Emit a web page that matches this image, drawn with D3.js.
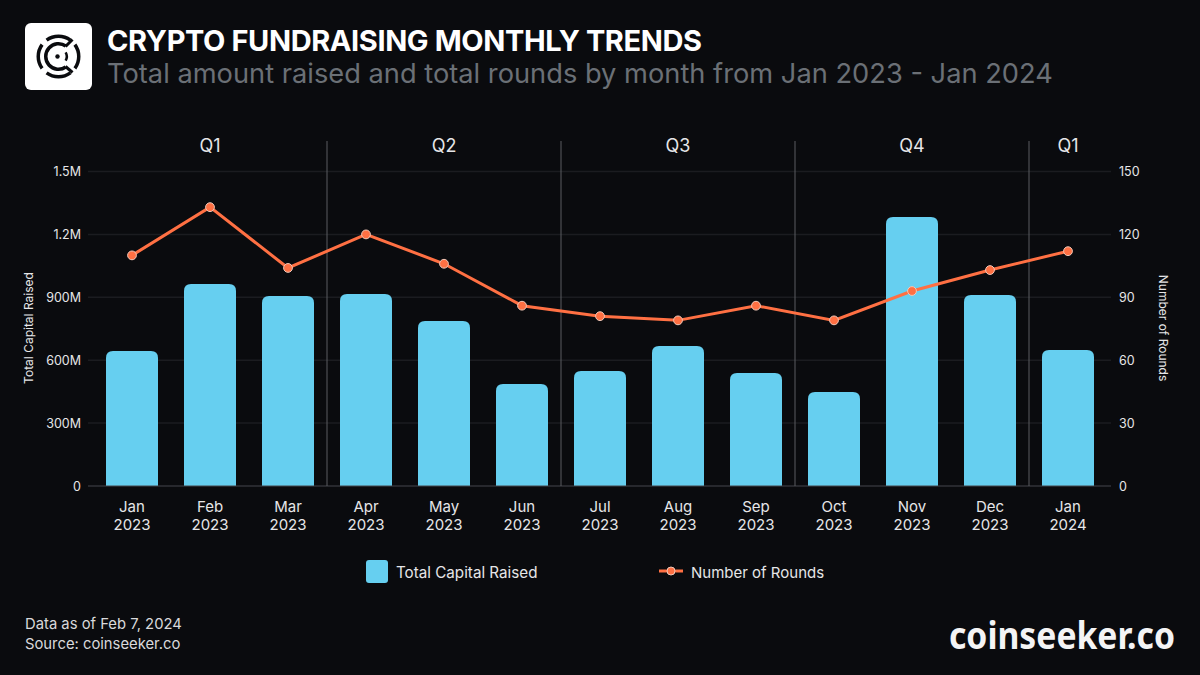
<!DOCTYPE html>
<html>
<head>
<meta charset="utf-8">
<script src="https://cdn.jsdelivr.net/npm/d3@7/dist/d3.min.js"></script>
<style>
  html, body { margin: 0; padding: 0; background: #0a0b0e; }
  svg { display: block; }
  text { font-family: Inter, "Noto Sans", sans-serif; }
</style>
</head>
<body>
<svg id="chart" width="1200" height="675"></svg>
<script>
const months = ["Jan", "Feb", "Mar", "Apr", "May", "Jun", "Jul", "Aug", "Sep", "Oct", "Nov", "Dec", "Jan"];
const years = ["2023", "2023", "2023", "2023", "2023", "2023", "2023", "2023", "2023", "2023", "2023", "2023", "2024"];
const capitalRaised = [644, 963, 906, 916, 787, 486, 548, 668, 539, 448, 1283, 911, 649];
const roundCounts = [110, 133, 104, 120, 106, 86, 81, 79, 86, 79, 93, 103, 112];
const capitalTicks = [0, 300, 600, 900, 1200, 1500];
const capitalTickLabels = ["0", "300M", "600M", "900M", "1.2M", "1.5M"];
const roundTicks = [0, 30, 60, 90, 120, 150];
const quarterNames = ["Q1", "Q2", "Q3", "Q4", "Q1"];
const quarterSpans = [[0, 2], [3, 5], [6, 8], [9, 11], [12, 12]];

const BAR_COLOR = "#66cff0";
const LINE_COLOR = "#ff7043";
const INK = "#0a0b0e";
const svg = d3.select("#chart");

svg.append("rect").attr("width", 1200).attr("height", 675).attr("fill", INK);

const keys = months.map((_, i) => i);
const x = d3.scaleBand().domain(keys).range([93, 1107]).paddingInner(1 / 3).paddingOuter(1 / 6);
const step = x.step();
const yLeft = d3.scaleLinear().domain([0, 1500]).range([486, 171.5]);
const yRight = d3.scaleLinear().domain([0, 150]).range([486, 171.5]);

// Horizontal gridlines
svg.append("g").selectAll("line").data(capitalTicks.slice(1)).join("line")
  .attr("x1", 88).attr("x2", 1111)
  .attr("y1", d => yLeft(d)).attr("y2", d => yLeft(d))
  .attr("stroke", "#1b1c20").attr("stroke-width", 1.5);

// Bars, rounded at the top corners only
const barRadius = 7;
svg.append("g").selectAll("path").data(capitalRaised).join("path")
  .attr("fill", BAR_COLOR)
  .attr("d", (d, i) => {
    const l = x(i), r = l + x.bandwidth(), t = yLeft(d), b = yLeft(0);
    return `M${l},${b}V${t + barRadius}Q${l},${t} ${l + barRadius},${t}H${r - barRadius}Q${r},${t} ${r},${t + barRadius}V${b}Z`;
  });

// Baseline
svg.append("line").attr("x1", 88).attr("x2", 1111)
  .attr("y1", yLeft(0)).attr("y2", yLeft(0))
  .attr("stroke", "#45474c").attr("stroke-width", 1);

// Quarter separators and headings
const center = i => x(i) + x.bandwidth() / 2;
svg.append("g").selectAll("line").data(quarterSpans.slice(1)).join("line")
  .attr("x1", d => x(d[0]) - (step - x.bandwidth()) / 2)
  .attr("x2", d => x(d[0]) - (step - x.bandwidth()) / 2)
  .attr("y1", 141).attr("y2", 486)
  .attr("stroke", "#5a5c60").attr("stroke-width", 1);
svg.append("g").selectAll("text").data(quarterNames).join("text")
  .attr("x", (d, i) => (center(quarterSpans[i][0]) + center(quarterSpans[i][1])) / 2)
  .attr("y", 152).attr("text-anchor", "middle")
  .attr("fill", "#e6e6e8").attr("font-size", 18).text(d => d);

// Left and right value axes
const leftAxis = d3.axisLeft(yLeft).tickValues(capitalTicks)
  .tickFormat((d, i) => capitalTickLabels[i]).tickSize(0).tickPadding(0);
const rightAxis = d3.axisRight(yRight).tickValues(roundTicks).tickSize(0).tickPadding(0);
[svg.append("g").attr("transform", "translate(81,0)").call(leftAxis),
 svg.append("g").attr("transform", "translate(1119,0)").call(rightAxis)].forEach(g => {
  g.select(".domain").remove();
  g.selectAll("text").attr("fill", "#e6e6e8").attr("font-size", 12.5)
    .style("font-family", "Inter, sans-serif");
});

svg.append("text").attr("transform", "translate(33,328) rotate(-90)")
  .attr("text-anchor", "middle").attr("fill", "#e6e6e8").attr("font-size", 12)
  .text("Total Capital Raised");
svg.append("text").attr("transform", "translate(1159,328) rotate(90)")
  .attr("text-anchor", "middle").attr("fill", "#e6e6e8").attr("font-size", 12)
  .text("Number of Rounds");

// Month and year labels
const monthLabels = svg.append("g").selectAll("text").data(keys).join("text")
  .attr("text-anchor", "middle").attr("fill", "#e6e6e8").attr("font-size", 15);
monthLabels.append("tspan").attr("x", center).attr("y", 512).text(i => months[i]);
monthLabels.append("tspan").attr("x", center).attr("y", 530).text(i => years[i]);

// Rounds line with markers
const line = d3.line().x((d, i) => center(i)).y(d => yRight(d));
svg.append("path").datum(roundCounts).attr("d", line)
  .attr("fill", "none").attr("stroke", LINE_COLOR).attr("stroke-width", 3);
svg.append("g").selectAll("circle").data(roundCounts).join("circle")
  .attr("cx", (d, i) => center(i)).attr("cy", d => yRight(d)).attr("r", 4.4)
  .attr("fill", LINE_COLOR).attr("stroke", "#f0c8b8").attr("stroke-width", 1);

// Legend
svg.append("rect").attr("x", 366).attr("y", 560).attr("width", 22).attr("height", 23).attr("rx", 3)
  .attr("fill", BAR_COLOR);
svg.append("text").attr("x", 396).attr("y", 577.5).attr("fill", "#e6e6e8").attr("font-size", 15.2)
  .text("Total Capital Raised");
svg.append("line").attr("x1", 659).attr("x2", 683).attr("y1", 571).attr("y2", 571)
  .attr("stroke", LINE_COLOR).attr("stroke-width", 3);
svg.append("circle").attr("cx", 671).attr("cy", 571).attr("r", 4)
  .attr("fill", LINE_COLOR).attr("stroke", "#f0c8b8").attr("stroke-width", 1);
svg.append("text").attr("x", 691).attr("y", 577.5).attr("fill", "#e6e6e8").attr("font-size", 15)
  .text("Number of Rounds");

// Title block with the brand mark: four outer arcs, an inner C and a small signal
svg.append("rect").attr("x", 25).attr("y", 23).attr("width", 67).attr("height", 67).attr("rx", 6)
  .attr("fill", "#ffffff");
const logo = svg.append("g").attr("transform", "translate(58.5,56.5)");
const ringArc = d3.arc();
const deg = d => d * Math.PI / 180;
[[-36, 36], [54, 126], [144, 216], [234, 306]].forEach(([a, b]) => {
  logo.append("path").attr("d", ringArc({ innerRadius: 18.5, outerRadius: 22, startAngle: deg(a), endAngle: deg(b) }))
    .attr("fill", INK);
});
logo.append("path").attr("d", ringArc({ innerRadius: 11, outerRadius: 14.5, startAngle: deg(145), endAngle: deg(395) }))
  .attr("fill", INK);
logo.append("path").attr("d", ringArc({ innerRadius: 7, outerRadius: 9.5, startAngle: deg(60), endAngle: deg(120) }))
  .attr("fill", INK);
logo.append("circle").attr("cx", -1).attr("cy", 0).attr("r", 2.2).attr("fill", INK);
[[7, 10, 14, 16], [7, -10, 14, -17]].forEach(([x1, y1, x2, y2]) => {
  logo.append("line").attr("x1", x1).attr("y1", y1).attr("x2", x2).attr("y2", y2)
    .attr("stroke", INK).attr("stroke-width", 3);
});

svg.append("text").attr("x", 107).attr("y", 50.5).attr("fill", "#ffffff")
  .attr("font-size", 29).attr("font-weight", 700).attr("letter-spacing", -0.4)
  .text("CRYPTO FUNDRAISING MONTHLY TRENDS");
svg.append("text").attr("x", 107).attr("y", 83).attr("fill", "#6b7076")
  .attr("font-size", 27.25)
  .text("Total amount raised and total rounds by month from Jan 2023 - Jan 2024");

// Footer
svg.append("text").attr("x", 25).attr("y", 629).attr("fill", "#d9d9db").attr("font-size", 14.8)
  .text("Data as of Feb 7, 2024");
svg.append("text").attr("x", 25).attr("y", 648.5).attr("fill", "#d9d9db").attr("font-size", 14.8)
  .text("Source: coinseeker.co");
svg.append("text").attr("x", 949).attr("y", 649).attr("fill", "#f4f4f5")
  .attr("font-size", 37).attr("font-weight", 700)
  .attr("textLength", 226).attr("lengthAdjust", "spacingAndGlyphs")
  .style("font-family", "'Noto Sans', sans-serif")
  .text("coinseeker.co");
</script>
</body>
</html>
